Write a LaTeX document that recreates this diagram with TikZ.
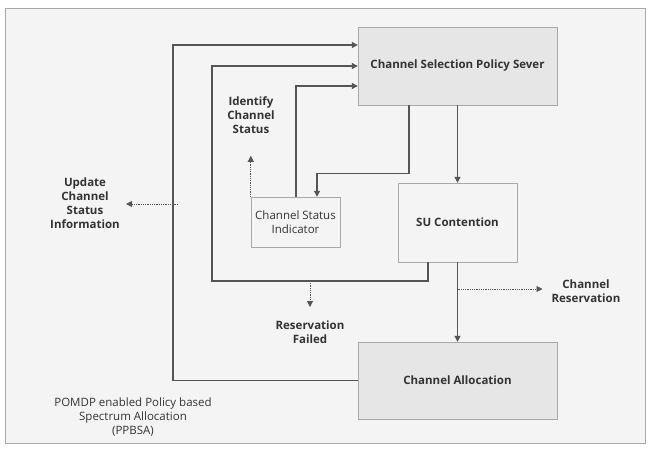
\documentclass[tikz,border=0pt]{standalone}
\usepackage{fontspec}
\setmainfont{Open Sans}
\usetikzlibrary{arrows.meta}

\definecolor{framefill}{HTML}{F4F4F4}
\definecolor{boxfill}{HTML}{E6E6E6}
\definecolor{linegray}{HTML}{555555}
\definecolor{edgegray}{HTML}{A8A8A8}

\begin{document}
\begin{tikzpicture}[x=1pt, y=-1pt,
  font=\fontsize{11.5}{14}\selectfont,
  box/.style={draw=edgegray, fill=framefill, inner sep=1pt, align=center, text=black!80},
  bigbox/.style={box, fill=boxfill, minimum width=199pt, minimum height=78pt, font=\fontsize{11.5}{14}\selectfont\bfseries},
  lbl/.style={align=center, text=black!80, inner sep=1pt, font=\fontsize{11.5}{14}\selectfont\bfseries},
  arr/.style={draw=linegray, line width=1.1pt, -{Triangle[length=6pt, width=6pt]}},
  darr/.style={draw=linegray, line width=0.8pt, densely dotted, -{Triangle[length=6pt, width=6pt]}}]
  \useasboundingbox (0,0) rectangle (649,450);
  \fill[white] (0,0) rectangle (649,450);
  \draw[edgegray, fill=framefill, line width=1pt] (5,8) rectangle (645,443);

  % boxes
  \node[bigbox] (csps) at (457.5,66) {Channel Selection Policy Sever};
  \node[bigbox, minimum height=77pt] (alloc) at (457.5,380.5) {Channel Allocation};
  \node[box, minimum width=119pt, minimum height=79pt, font=\fontsize{11.5}{14}\selectfont\bfseries] (su) at (457.5,222.5) {SU Contention};
  \node[box, minimum width=89pt, minimum height=50pt] (csi) at (295.5,222) {Channel Status\\Indicator};

  % labels
  \node[lbl] (ident) at (251,115) {Identify\\Channel\\Status};
  \node[lbl] (upd) at (85,203) {Update\\Channel\\Status\\Information};
  \node[lbl] (fail) at (310,332) {Reservation\\Failed};
  \node[lbl] (chres) at (586,291.5) {Channel\\Reservation};
  \node[align=center, text=black!80] (ppbsa) at (133,417) {POMDP enabled Policy based\\Spectrum Allocation\\(PPBSA)};

  % loop corners
  \coordinate (outer) at (173,380.5);
  \coordinate (inner) at (212,281);
  \coordinate (resv) at (457.5,289);
  \coordinate (fork) at (310,281);
  \coordinate (tap) at (178,204);

  % feedback connectors
  \draw[arr] (alloc.west) -- (outer) |- ([yshift=21pt]csps.west);
  \draw[arr] ([xshift=-29.5pt]su.south) |- (inner) |- (csps.west);
  \draw[arr] ([xshift=0.5pt]csi.north) |- ([yshift=-20pt]csps.west);
  \draw[arr] ([xshift=-48.5pt]csps.south) -- ++(0,68) -| ([xshift=21.5pt]csi.north);

  % main flow
  \draw[arr] (csps.south) -- (su.north);
  \draw[arr] (su.south) -- (alloc.north);

  % dotted outputs
  \draw[darr] (resv) -- ++(85,0);
  \draw[darr] (csi.north west) -- ++(0,-41);
  \draw[darr] (tap) -- ++(-52,0);
  \draw[darr] (fork) -- ++(0,26);
\end{tikzpicture}
\end{document}
